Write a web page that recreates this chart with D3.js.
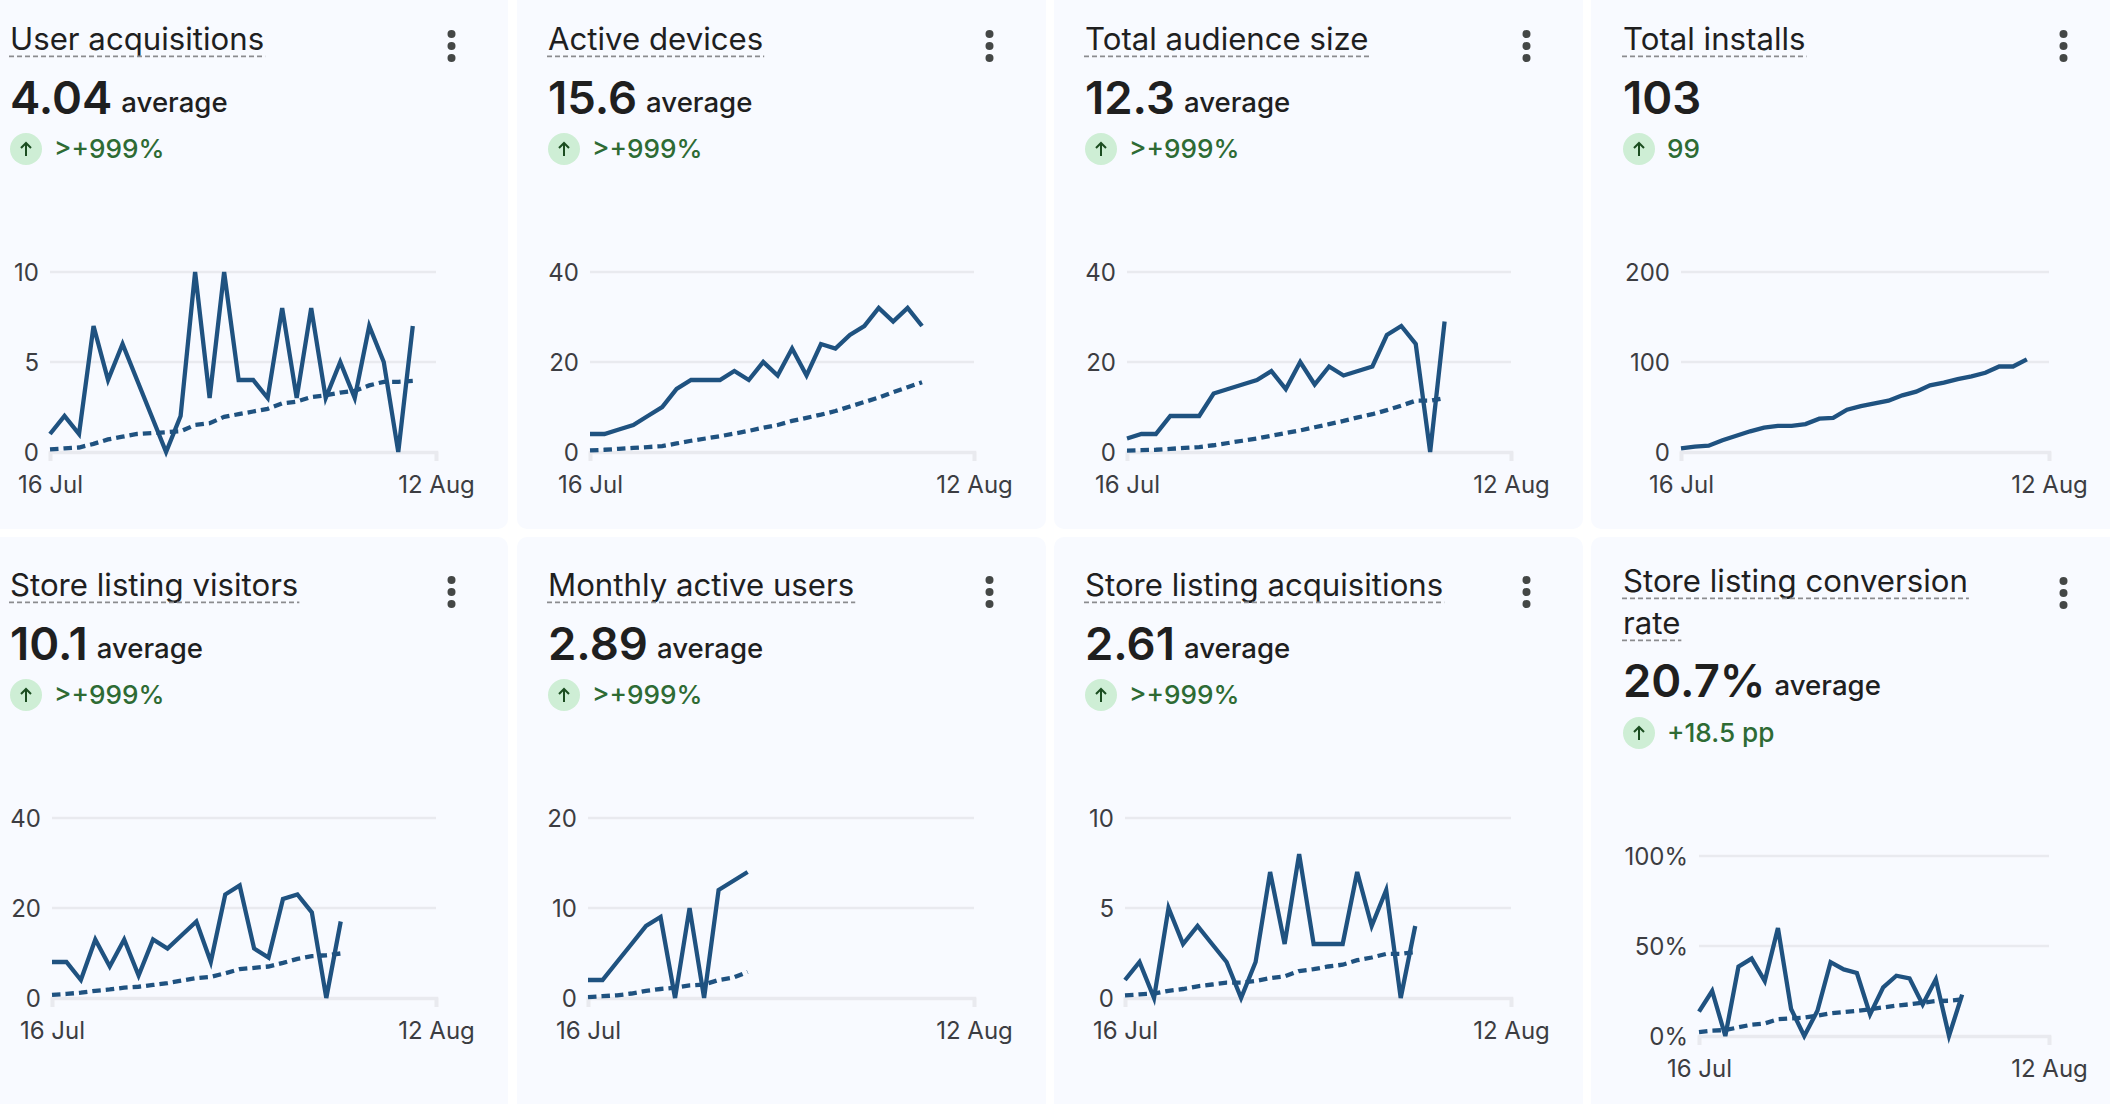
<!DOCTYPE html>
<html>
<head>
<meta charset="utf-8">
<title>Store metrics</title>
<script src="https://cdn.jsdelivr.net/npm/d3@7/dist/d3.min.js"></script>
<style>
  html, body { margin: 0; padding: 0; background: #fff; overflow: hidden; }
  svg { display: block; }
  text { font-family: Inter, Roboto, sans-serif; }
  .grid line { stroke: #e9eaef; stroke-width: 2.4; }
  .tick-label text { fill: #3c3d42; font-size: 24px; font-family: Inter, Roboto, sans-serif; }
</style>
</head>
<body>
<div id="root"></div>
<script>
// --- values ---
var xLabels = ['16 Jul', '12 Aug'];

var titles = [
  ['User acquisitions'], ['Active devices'], ['Total audience size'], ['Total installs'],
  ['Store listing visitors'], ['Monthly active users'], ['Store listing acquisitions'],
  ['Store listing conversion', 'rate']
];
var headlines = ['4.04', '15.6', '12.3', '103', '10.1', '2.89', '2.61', '20.7%'];
var headlineNotes = ['average', 'average', 'average', '', 'average', 'average', 'average', 'average'];
var deltas = ['>+999%', '>+999%', '>+999%', '99', '>+999%', '>+999%', '>+999%', '+18.5 pp'];
var yTicks = [[0, 5, 10], [0, 20, 40], [0, 20, 40], [0, 100, 200], [0, 20, 40], [0, 10, 20], [0, 5, 10], [0, 50, 100]];
var percentPanel = 7;

var acquisitions = [1, 2, 1, 7, 4, 6, 4, 2, 0, 2, 10, 3, 10, 4, 4, 3, 8, 3, 8, 3, 5, 3, 7, 5, 0, 7];
var acquisitionsAvg = [0.15, 0.2, 0.25, 0.45, 0.7, 0.85, 1.0, 1.05, 1.1, 1.15, 1.5, 1.6, 1.95, 2.1, 2.25, 2.4, 2.7, 2.8, 3.05, 3.15, 3.3, 3.4, 3.7, 3.9, 3.9, 3.95];

var devices = [4, 4, 5, 6, 8, 10, 14, 16, 16, 16, 18, 16, 20, 17, 23, 17, 24, 23, 26, 28, 32, 29, 32, 28];
var devicesAvg = [0.35, 0.5, 0.7, 0.9, 1.1, 1.3, 1.9, 2.5, 3, 3.5, 4.1, 4.7, 5.4, 6, 6.9, 7.6, 8.3, 9.1, 10.1, 11.1, 12.1, 13.3, 14.4, 15.5];

var audience = [3, 4, 4, 8, 8, 8, 13, 14, 15, 16, 18, 14, 20, 15, 19, 17, 18, 19, 26, 28, 24, 0, 29];
var audienceAvg = [0.3, 0.4, 0.5, 0.7, 0.9, 1.1, 1.5, 2, 2.5, 3, 3.6, 4.2, 4.8, 5.5, 6.2, 6.9, 7.7, 8.4, 9.3, 10.3, 11.4, 11.4, 12];

var installs = [4, 6, 7, 13, 18, 23, 27, 29, 29, 31, 37, 38, 47, 51, 54, 57, 63, 67, 74, 77, 81, 84, 88, 95, 95, 103];

var visitors = [8, 8, 4, 13, 7, 13, 5, 13, 11, 14, 17, 8, 23, 25, 11, 9, 22, 23, 19, 0, 17];
var visitorsAvg = [0.7, 0.9, 1.2, 1.6, 1.9, 2.3, 2.5, 2.9, 3.3, 3.9, 4.4, 4.7, 5.5, 6.4, 6.7, 7, 7.8, 8.7, 9.3, 9.5, 9.9];

var monthly = [2, 2, 4, 6, 8, 9, 0, 10, 0, 12, 13, 14];
var monthlyAvg = [0.1, 0.2, 0.3, 0.5, 0.8, 1.0, 1.15, 1.4, 1.5, 2, 2.25, 2.9];

var listingAcq = [1, 2, 0, 5, 3, 4, 3, 2, 0, 2, 7, 3, 8, 3, 3, 3, 7, 4, 6, 0, 4];
var listingAcqAvg = [0.15, 0.2, 0.25, 0.4, 0.5, 0.65, 0.75, 0.85, 0.85, 0.95, 1.1, 1.2, 1.5, 1.6, 1.75, 1.85, 2.1, 2.25, 2.45, 2.45, 2.55];

var conversion = [13.5, 25, 0, 38.5, 43, 30.5, 60, 15, 0, 14, 41, 37, 35, 12, 27, 33.5, 32, 17.5, 31.5, 0, 23];
var conversionAvg = [2.2, 3, 3.3, 4.8, 6.3, 7, 9.3, 9.8, 10.2, 11.3, 12.6, 13.3, 14, 14.8, 15.9, 16.9, 17.6, 18.5, 19.4, 19.6, 20.4];

var dailySeries = [acquisitions, devices, audience, installs, visitors, monthly, listingAcq, conversion];
var avgSeries = [acquisitionsAvg, devicesAvg, audienceAvg, null, visitorsAvg, monthlyAvg, listingAcqAvg, conversionAvg];

// --- layout ---
var width = 2110, height = 1104;
var xSpan = 26.6; // days covered by the axis between its two end ticks

var panelLeft = [-21, 517, 1054, 1591];
var panelTop = [-20, 537];
var panelBottom = [529, 1130];
var panelWidth = 529;
var rowShift = [0, 546];

// plot left/right and the y of top grid/baseline for each panel
var plotLeft = [50, 590, 1127, 1681, 52, 588, 1125, 1699];
var plotRight = [436, 974, 1511, 2049, 436, 974, 1511, 2049];
var plotTop = [272, 272, 272, 272, 818, 818, 818, 856];
var plotBase = [452, 452, 452, 452, 998, 998, 998, 1036];

var colors = {
  panel: '#f8faff', text: '#1f1f1f', note: '#1f1f1f', green: '#2e6b34',
  badge: '#ceeed5', arrow: '#1b4d20', line: '#1f5280', axis: '#e9eaef',
  dots: '#444746', underline: '#8b8c8f'
};

var svg = d3.select('#root').append('svg').attr('width', width).attr('height', height);
svg.append('rect').attr('width', width).attr('height', height).attr('fill', '#fff');

var drawPanel = function(i) {
  var col = i % 4, row = Math.floor(i / 4);
  var px = panelLeft[col];
  var textX = px + (col === 3 ? 32 : 31);
  var dy = rowShift[row];
  var wrapped = titles[i].length > 1;

  var g = svg.append('g');

  g.append('rect')
    .attr('x', px).attr('y', panelTop[row])
    .attr('width', panelWidth).attr('height', panelBottom[row] - panelTop[row])
    .attr('rx', 10).attr('fill', colors.panel);

  // title lines with dashed underline
  var titleBase = wrapped ? 592 : 50 + dy;
  titles[i].forEach(function(line, n) {
    var y = titleBase + n * 42;
    var t = g.append('text').attr('x', textX).attr('y', y)
      .attr('font-size', 31.2).attr('fill', colors.text).text(line);
    g.append('line')
      .attr('x1', textX - 1).attr('x2', textX + t.node().getComputedTextLength() + 1)
      .attr('y1', y + 6.3).attr('y2', y + 6.3)
      .attr('stroke', colors.underline).attr('stroke-width', 1.8)
      .attr('stroke-dasharray', '5 3');
  });

  // menu dots
  var dotsMid = wrapped ? 593 : 46 + dy;
  [-12, 0, 12].forEach(function(d) {
    g.append('circle').attr('cx', px + 472.5).attr('cy', dotsMid + d).attr('r', 4).attr('fill', colors.dots);
  });

  // headline
  var valueBase = wrapped ? 697 : 113.5 + dy;
  var value = g.append('text').attr('x', textX).attr('y', valueBase)
    .attr('font-size', 45.5).attr('font-weight', 600).attr('fill', colors.text).text(headlines[i]);
  if (headlineNotes[i]) {
    g.append('text').attr('x', textX + value.node().getComputedTextLength() + 9).attr('y', valueBase - 2)
      .attr('font-size', 27.6).attr('font-weight', 500).attr('fill', colors.note).text(headlineNotes[i]);
  }

  // change badge
  var badgeY = wrapped ? 733 : 149 + dy;
  var badge = g.append('g').attr('transform', 'translate(' + (textX + 16) + ',' + badgeY + ')');
  badge.append('circle').attr('r', 16).attr('fill', colors.badge);
  badge.append('path').attr('d', 'M0,7V-6M-5,-1L0,-6L5,-1')
    .attr('fill', 'none').attr('stroke', colors.arrow).attr('stroke-width', 2);
  g.append('text').attr('x', textX + 44).attr('y', badgeY + 8.5)
    .attr('font-size', 26.2).attr('font-weight', 500).attr('fill', colors.green).text(deltas[i]);

  // chart
  var ticks = yTicks[i];
  var x = d3.scaleLinear().domain([0, xSpan]).range([plotLeft[i], plotRight[i]]);
  var y = d3.scaleLinear().domain([0, ticks[ticks.length - 1]]).range([plotBase[i], plotTop[i]]);

  var yAxis = d3.axisLeft(y).tickValues(ticks).tickSize(0).tickPadding(11)
    .tickFormat(function(d) { return i === percentPanel ? d + '%' : d; });
  var yG = g.append('g').attr('class', 'tick-label')
    .attr('transform', 'translate(' + plotLeft[i] + ',0)').call(yAxis);
  yG.select('.domain').remove();
  yG.selectAll('text').attr('dy', '0.36em');

  g.append('g').attr('class', 'grid').selectAll('line').data(ticks.slice(1)).enter().append('line')
    .attr('x1', plotLeft[i]).attr('x2', plotRight[i])
    .attr('y1', function(d) { return y(d); }).attr('y2', function(d) { return y(d); });

  var xAxis = d3.axisBottom(x).tickValues([0, xSpan]).tickSize(9).tickPadding(15)
    .tickFormat(function(d, n) { return xLabels[n]; });
  var xG = g.append('g').attr('class', 'tick-label')
    .attr('transform', 'translate(0,' + plotBase[i] + ')').call(xAxis);
  xG.select('.domain').attr('stroke', colors.axis).attr('stroke-width', 3.6);
  xG.selectAll('.tick line').attr('stroke', colors.axis).attr('stroke-width', 3.6);

  var line = d3.line()
    .x(function(d, n) { return x(n); })
    .y(function(d) { return y(d); });

  if (avgSeries[i]) {
    g.append('path').datum(avgSeries[i]).attr('d', line)
      .attr('fill', 'none').attr('stroke', colors.line).attr('stroke-width', 4.3)
      .attr('stroke-dasharray', '8.5 5');
  }
  g.append('path').datum(dailySeries[i]).attr('d', line)
    .attr('fill', 'none').attr('stroke', colors.line).attr('stroke-width', 4.3)
    .attr('stroke-linejoin', 'miter');
};

d3.range(8).forEach(drawPanel);
</script>
</body>
</html>
